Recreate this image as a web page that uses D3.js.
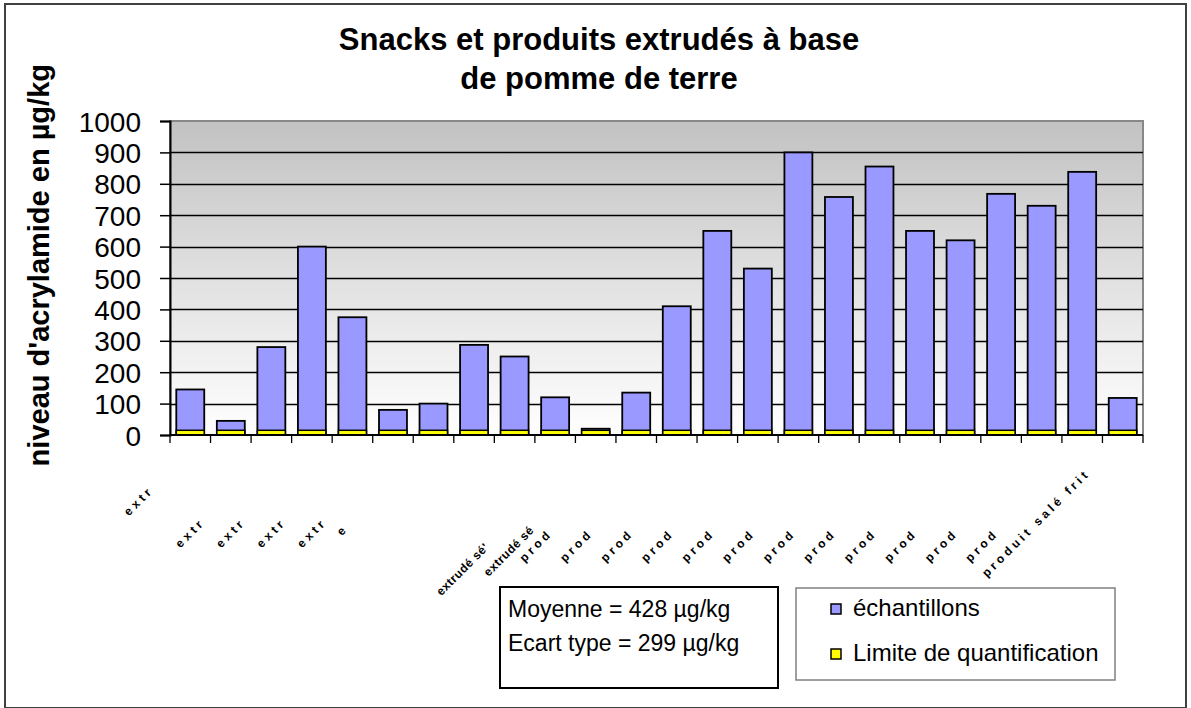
<!DOCTYPE html>
<html><head><meta charset="utf-8">
<script src="https://cdn.jsdelivr.net/npm/d3@7"></script>
<style>
body{margin:0;background:#fff}
svg{display:block}
text{font-family:"Liberation Sans",Arial,sans-serif;fill:#000}
</style>
</head><body>
<svg id="c" width="1191" height="708"></svg>
<script>
// ---------- data ----------
const categories = ["extr","extr","extr","extr","extr","e","extrudé sé'","","extrudé sé",
  "prod","prod","prod","prod","prod","prod","prod","prod","prod","prod","prod","prod",
  "","","produit salé frit"];
const echantillons = [145,45,280,600,375,80,100,287,250,120,20,135,410,650,530,900,758,855,650,620,768,730,838,118];
const limiteQuantification = [15,15,15,15,15,15,15,15,15,15,15,15,15,15,15,15,15,15,15,15,15,15,15,15];
const yTicks = [0,100,200,300,400,500,600,700,800,900,1000];
const titleLines = ["Snacks et produits extrudés à base","de pomme de terre"];
const yTitle = "niveau d'acrylamide en µg/kg";
const statsLines = ["Moyenne = 428 µg/kg","Ecart type = 299 µg/kg"];
const legendLabels = ["échantillons","Limite de quantification"];

// ---------- layout ----------
const svg = d3.select("#c");
const P = {left:170, right:1143, top:121, bottom:435};
const x = d3.scaleBand().domain(d3.range(categories.length)).range([P.left,P.right]).padding(0);
const y = d3.scaleLinear().domain([0,1000]).range([P.bottom,P.top]);
const bw = x.bandwidth()/1.45;
const blue = "#9999ff", yellow = "#ffff00";

// outer frame
svg.append("rect").attr("x",5).attr("y",4).attr("width",1181).attr("height",704)
  .attr("fill","#fff").attr("stroke","#404040").attr("stroke-width",2);

// gradient plot background
const defs = svg.append("defs");
const g1 = defs.append("linearGradient").attr("id","bg").attr("x1",0).attr("y1",0).attr("x2",0).attr("y2",1);
g1.append("stop").attr("offset","0%").attr("stop-color","#c2c2c2");
g1.append("stop").attr("offset","100%").attr("stop-color","#ffffff");
svg.append("rect").attr("x",P.left).attr("y",P.top).attr("width",P.right-P.left).attr("height",P.bottom-P.top)
  .attr("fill","url(#bg)").attr("stroke","#888").attr("stroke-width",2);

// gridlines
svg.append("g").selectAll("line").data(yTicks.filter(d=>d>0 && d<1000)).join("line")
  .attr("x1",P.left).attr("x2",P.right).attr("y1",d=>Math.round(y(d))+0.5).attr("y2",d=>Math.round(y(d))+0.5)
  .attr("stroke","#000").attr("stroke-width",1.3);

// bars
svg.append("g").selectAll("rect").data(echantillons).join("rect")
  .attr("x",(d,i)=>x(i)+(x.bandwidth()-bw)/2).attr("width",bw)
  .attr("y",d=>y(d)).attr("height",d=>y(0)-y(d))
  .attr("fill",blue).attr("stroke","#000").attr("stroke-width",1.8);
svg.append("g").selectAll("rect").data(limiteQuantification).join("rect")
  .attr("x",(d,i)=>x(i)+(x.bandwidth()-bw)/2).attr("width",bw)
  .attr("y",d=>y(d)).attr("height",d=>y(0)-y(d))
  .attr("fill",yellow).attr("stroke","#000").attr("stroke-width",1.5);

// y axis
const ya = svg.append("g").attr("transform",`translate(${P.left},0)`)
  .call(d3.axisLeft(y).tickValues(yTicks).tickSize(10).tickPadding(19).tickFormat(d3.format("d")));
ya.select(".domain").attr("stroke","#000").attr("stroke-width",2);
ya.selectAll(".tick line").attr("stroke","#000").attr("stroke-width",1.5);
ya.selectAll(".tick text").attr("font-size",28).attr("font-family","Liberation Sans, Arial, sans-serif").attr("dy","0.36em");

// x axis
const xa = svg.append("g").attr("transform",`translate(0,${P.bottom})`);
xa.append("line").attr("x1",P.left).attr("x2",P.right).attr("stroke","#000").attr("stroke-width",2);
xa.selectAll("line.t").data(d3.range(categories.length+1)).join("line").attr("class","t")
  .attr("x1",i=>P.left+i*x.step()).attr("x2",i=>P.left+i*x.step()).attr("y1",0).attr("y2",8)
  .attr("stroke","#000").attr("stroke-width",1.3);

// category labels (rotated, truncated as in original)
function labelPos(i){
  const c = x(i)+x.bandwidth()/2;
  if(i===0) return [c-36,491];
  if(i>=1 && i<=4) return [c-25,523];
  if(i===5) return [c-44,529];
  if(i===6) return [c+56,548];
  if(i===8) return [c+20,531];
  if(i>=9 && i<=20) return [c-2,534];
  return [c-32,474];
}
const longLbl = i => i===6 || i===8;
svg.append("g").selectAll("text").data(categories.map((t,i)=>({t,i})).filter(d=>d.t)).join("text")
  .attr("transform",d=>{const p=labelPos(d.i);return `translate(${p[0]},${p[1]}) rotate(-45)`;})
  .attr("text-anchor","end").attr("font-size",12).attr("font-weight","bold")
  .attr("letter-spacing",d=>longLbl(d.i)?"0.5px":"3.5px")
  .text(d=>d.t);

// title
svg.append("g").selectAll("text").data(titleLines).join("text")
  .attr("x",599).attr("y",(d,i)=>50+i*39).attr("text-anchor","middle")
  .attr("font-size",31).attr("font-weight","bold").text(d=>d);

// y title
svg.append("text").attr("transform","translate(49,64) rotate(-90)").attr("text-anchor","end")
  .attr("font-size",29).attr("font-weight","bold").text(yTitle);

// stats box
svg.append("rect").attr("x",500).attr("y",587).attr("width",278).attr("height",101)
  .attr("fill","#fff").attr("stroke","#000").attr("stroke-width",2);
svg.append("g").selectAll("text").data(statsLines).join("text")
  .attr("x",508).attr("y",(d,i)=>617+i*34).attr("font-size",23).text(d=>d);

// legend
svg.append("rect").attr("x",796).attr("y",588).attr("width",319).attr("height",92)
  .attr("fill","#fff").attr("stroke","#808080").attr("stroke-width",1.5);
const lg = svg.append("g").selectAll("g").data(legendLabels).join("g")
  .attr("transform",(d,i)=>`translate(831,${604+i*45})`);
lg.append("rect").attr("width",10).attr("height",10).attr("fill",(d,i)=>i?yellow:blue)
  .attr("stroke","#000").attr("stroke-width",1.5);
lg.append("text").attr("x",22).attr("y",12).attr("font-size",24).text(d=>d);
</script>
</body></html>
